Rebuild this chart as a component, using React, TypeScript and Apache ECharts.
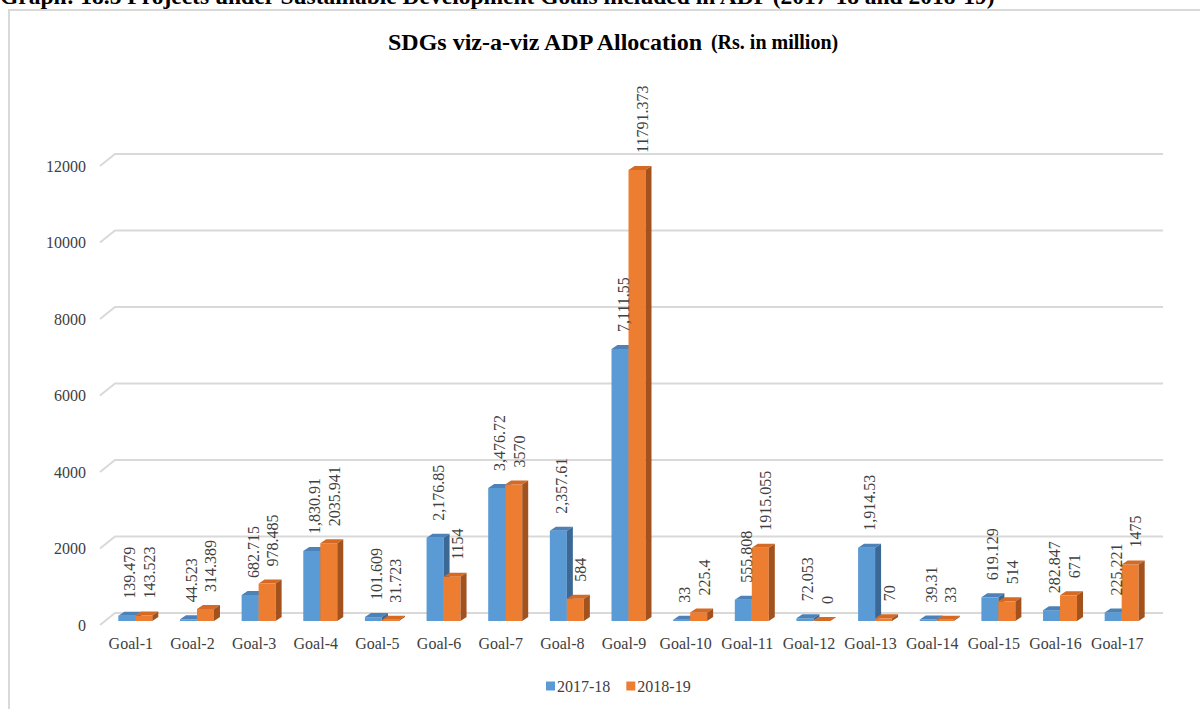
import React, { useEffect, useRef } from "react";
import * as echarts from "echarts";

const categories = [
  "Goal-1", "Goal-2", "Goal-3", "Goal-4", "Goal-5", "Goal-6", "Goal-7", "Goal-8", "Goal-9",
  "Goal-10", "Goal-11", "Goal-12", "Goal-13", "Goal-14", "Goal-15", "Goal-16", "Goal-17",
];
const values2017 = [
  139.479, 44.523, 682.715, 1830.91, 101.609, 2176.85, 3476.72, 2357.61, 7111.55,
  33, 555.808, 72.053, 1914.53, 39.31, 619.129, 282.847, 225.221,
];
const values2018 = [
  143.523, 314.389, 978.485, 2035.941, 31.723, 1154, 3570, 584, 11791.373,
  225.4, 1915.055, 0, 70, 33, 514, 671, 1475,
];
const yTicks = [0, 2000, 4000, 6000, 8000, 10000, 12000];
const seriesNames = ["2017-18", "2018-19"];

const FONT = "Liberation Serif";
const TEXT = "#404040";

const fmt2017 = (v: number) => v.toLocaleString("en-US", { maximumFractionDigits: 3 });
const fmt2018 = (v: number) => String(v);

const colors = [
  { front: "#5b9bd5", top: "#4c82b8", side: "#3b6894" },
  { front: "#ed7d31", top: "#d46a24", side: "#a3521d" },
];

const BAR_W = 17;
const SPLIT = 4.5;
const DX = 6;
const DY = 4;
const SHIFT_Y = 4;
const FS = 16;

function makeBarRender(idx: number, fmt: (v: number) => string) {
  return (params: any, api: any) => {
    const i = api.value(0);
    const v = api.value(1);
    const top = api.coord([i, v]);
    const base = api.coord([i, 0]);
    const cx = top[0];
    const x0 = idx === 0 ? cx + SPLIT - BAR_W : cx + SPLIT;
    const x1 = x0 + BAR_W;
    const yb = base[1] - SHIFT_Y;
    const yt = top[1] - SHIFT_Y;
    const c = colors[idx];
    return {
      type: "group",
      children: [
        {
          type: "rect",
          shape: { x: x0, y: yt, width: BAR_W, height: Math.max(yb - yt, 0) },
          style: { fill: c.front },
        },
        {
          type: "polygon",
          shape: { points: [[x0, yt], [x1, yt], [x1 + DX, yt - DY], [x0 + DX, yt - DY]] },
          style: { fill: c.top },
        },
        {
          type: "polygon",
          shape: { points: [[x1, yt], [x1 + DX, yt - DY], [x1 + DX, yb - DY], [x1, yb]] },
          style: { fill: c.side },
        },
        {
          type: "text",
          x: x0 + BAR_W / 2 + (idx === 0 ? 3 : 5.5),
          y: yt - 17,
          rotation: Math.PI / 2,
          z2: 100,
          style: {
            text: fmt(v),
            align: "left",
            verticalAlign: "middle",
            fill: TEXT,
            fontFamily: FONT,
            fontSize: FS,
          },
        },
      ],
    };
  };
}

export default function App() {
  const ref = useRef<HTMLDivElement>(null);
  useEffect(() => {
    if (!ref.current) return;
    const chart = echarts.init(ref.current, undefined, { renderer: "svg" });
    chart.setOption({
      animation: false,
      backgroundColor: "#ffffff",
      title: {
        text: "{a|SDGs viz-a-viz ADP Allocation} {b|(Rs. in million)}",
        left: 383,
        top: 25,
        textStyle: {
          rich: {
            a: { fontFamily: FONT, fontWeight: "bold", fontSize: 24, color: "#000" },
            b: { fontFamily: FONT, fontWeight: "bold", fontSize: 20, color: "#000" },
          },
        },
      },
      graphic: [
        {
          type: "text",
          x: 0,
          y: 8,
          style: {
            text: "Graph: 18.5 Projects under Sustainable Development Goals included in ADP (2017-18 and 2018-19)",
            fontFamily: FONT,
            fontWeight: "bold",
            fontSize: 23.5,
            fill: "#000",
            verticalAlign: "bottom",
            align: "left",
          },
        },
        {
          type: "rect",
          shape: { x: 9, y: 10, width: 1400, height: 900 },
          style: { fill: "none", stroke: "#d9d9d9", lineWidth: 2 },
          silent: true,
        },
      ],
      legend: {
        data: seriesNames,
        bottom: 10,
        left: 541,
        icon: "rect",
        itemWidth: 9,
        itemHeight: 9,
        itemGap: 16,
        textStyle: { fontFamily: FONT, fontSize: FS, color: TEXT, padding: [0, 0, 0, -3] },
      },
      grid: { left: 100, right: 52, top: 166, bottom: 84, containLabel: false },
      xAxis: {
        type: "category",
        data: categories,
        axisLine: { show: false },
        axisTick: { show: false },
        axisLabel: { fontFamily: FONT, fontSize: FS, color: TEXT, margin: 10, interval: 0 },
      },
      yAxis: {
        type: "value",
        min: 0,
        max: 12000,
        interval: 2000,
        axisLine: { show: false },
        axisTick: { show: false },
        splitLine: { show: false },
        axisLabel: {
          fontFamily: FONT,
          fontSize: FS,
          color: TEXT,
          margin: 14,
          formatter: (v: number) => String(v),
        },
      },
      series: [
        {
          type: "custom",
          name: "grid",
          silent: true,
          z: 1,
          data: yTicks.map((v) => [0, v]),
          renderItem: (params: any, api: any) => {
            const p = api.coord([0, api.value(1)]);
            const x0 = params.coordSys.x;
            const x1 = x0 + params.coordSys.width;
            const y = p[1];
            return {
              type: "polyline",
              shape: { points: [[x0, y], [x0 + 15, y - 12], [x1 + 15, y - 12]] },
              style: { stroke: "#d9d9d9", lineWidth: 2, fill: "none" },
            };
          },
        },
        {
          type: "custom",
          name: seriesNames[0],
          itemStyle: { color: colors[0].front },
          data: values2017.map((v, i) => [i, v]),
          renderItem: makeBarRender(0, fmt2017),
        },
        {
          type: "custom",
          name: seriesNames[1],
          itemStyle: { color: colors[1].front },
          data: values2018.map((v, i) => [i, v]),
          renderItem: makeBarRender(1, fmt2018),
        },
      ],
    });
    return () => chart.dispose();
  }, []);
  return (
    <div
      ref={ref}
      style={{ position: "fixed", left: 0, top: 0, width: 1200, height: 709 }}
    />
  );
}
